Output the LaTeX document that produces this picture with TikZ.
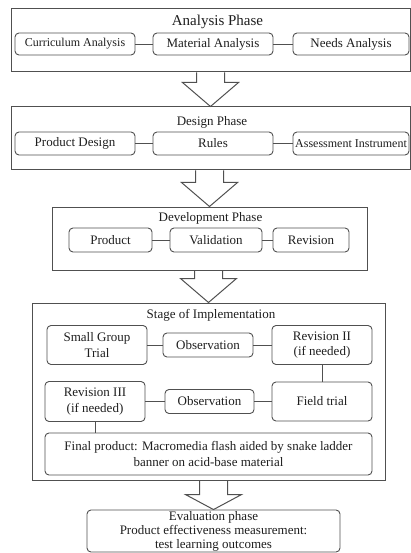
\documentclass[tikz,border=0pt]{standalone}
\usepackage{fontspec}
\setmainfont{Liberation Serif}
\usetikzlibrary{calc}

\definecolor{linegray}{HTML}{505050}
\definecolor{textgray}{HTML}{1E1E1E}

% block arrow from the bottom of one phase to the top of the next
\newcommand{\fatarrow}[3][24]{%
  \draw[blockarrow] let \p1=(#2.south), \p2=(#3.north) in
    (\x2-14pt,\y1) -- (\x2-14pt,\y2+#1pt) -- (\x2-28pt,\y2+#1pt) -- (\x2,\y2)
    -- (\x2+28pt,\y2+#1pt) -- (\x2+14pt,\y2+#1pt) -- (\x2+14pt,\y1);}

\begin{document}
\begin{tikzpicture}[x=1pt,y=-1pt,
	phase/.style 2 args={draw=linegray,line width=1pt,minimum width=#1pt,minimum height=#2pt,inner sep=0pt},
	item/.style 2 args={draw=linegray,line width=0.9pt,rounded corners=4pt,minimum width=#1pt,minimum height=#2pt,
		inner sep=1pt,align=center,text=textgray,font=\fontsize{13}{15.5}\selectfont},
	title/.style={inner sep=0pt,text=textgray,font=\fontsize{13}{15.5}\selectfont},
	link/.style={draw=linegray,line width=0.9pt},
	blockarrow/.style={draw=linegray,line width=1pt,line join=miter}]
	\useasboundingbox (0,0) rectangle (411,553);

	% analysis
	\node[phase={399}{63}] (analysis) at (210.5,40.5) {};
	\node[title,font=\fontsize{15}{18}\selectfont] (analysisT) at (217.5,22) {Analysis Phase};
	\node[item={120}{22},font=\fontsize{12}{14}\selectfont] (curr) at (75,44) {Curriculum Analysis};
	\node[item={120}{22}] (mat) at (213,44) {Material Analysis};
	\node[item={116}{22}] (needs) at (351,44) {Needs Analysis};
	\draw[link] (curr) -- (mat);
	\draw[link] (mat) -- (needs);

	% design
	\node[phase={399}{63}] (design) at (210.5,138.5) {};
	\node[title] (designT) at (212,122) {Design Phase};
	\node[item={120}{23}] (pdesign) at (75,143.5) {Product Design};
	\node[item={120}{23}] (rules) at (213,143.5) {Rules};
	\node[item={116}{23},font=\fontsize{12}{14}\selectfont] (assess) at (351,143.5) {Assessment Instrument};
	\draw[link] (pdesign) -- (rules);
	\draw[link] (rules) -- (assess);

	% development
	\node[phase={315}{63}] (develop) at (209.5,238.5) {};
	\node[title] (developT) at (210.5,218) {Development Phase};
	\node[item={83}{24}] (product) at (110.5,240) {Product};
	\node[item={92}{24}] (valid) at (216,240) {Validation};
	\node[item={76}{24}] (revision) at (311,240) {Revision};
	\draw[link] (product) -- (valid);
	\draw[link] (valid) -- (revision);

	% implementation
	\node[phase={353}{177}] (impl) at (208.5,391.5) {};
	\node[title] (implT) at (211,315) {Stage of Implementation};
	\node[item={100}{39}] (sgt) at (97,345) {Small Group\\Trial};
	\node[item={90}{24}] (obsA) at (208,345) {Observation};
	\node[item={100}{39}] (revB) at (322,345) {Revision II\\(if needed)};
	\node[item={100}{40}] (revC) at (95,401.5) {Revision III\\(if needed)};
	\node[item={89}{24}] (obsB) at (209.5,401.5) {Observation};
	\node[item={100}{39}] (field) at (322,401.5) {Field trial};
	\node[item={327}{42}] (final) at (208.5,454) {Final product: Macromedia flash aided by snake ladder\\banner on acid-base material};
	\draw[link] (sgt) -- (obsA);
	\draw[link] (obsA) -- (revB);
	\draw[link] (revB) -- (field);
	\draw[link] (revC) -- (obsB);
	\draw[link] (obsB) -- (field);
	\draw[link] (revC.south) -- (revC.south |- final.north);

	% evaluation
	\node[item={253}{42},font=\fontsize{13}{14}\selectfont] (eval) at (213.5,531) {Evaluation phase\\Product effectiveness measurement:\\test learning outcomes};

	\fatarrow{analysis}{design}
	\fatarrow{design}{develop}
	\fatarrow{develop}{impl}
	\fatarrow[15]{impl}{eval}
\end{tikzpicture}
\end{document}
